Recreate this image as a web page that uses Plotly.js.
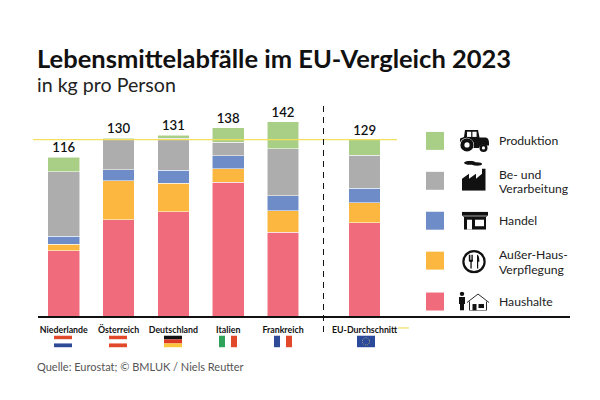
<!DOCTYPE html>
<html><head><meta charset="utf-8">
<script src="https://cdn.plot.ly/plotly-3.0.1.min.js"></script>
<style>html,body{margin:0;padding:0;background:#fff}#c{width:600px;height:400px}</style>
</head><body><div id="c"></div>
<script>
const countries=["Niederlande","Österreich","Deutschland","Italien","Frankreich","EU-Durchschnitt"];
const positions=[0,1,2,3,4,5.49];
const totals=[116,130,131,138,142,129];
const haushalte=[47.7,70.6,76.1,98,61.1,68.4];
const ausser=[4.9,28.5,20.9,9.8,15.8,14.3];
const handel=[5.8,8,9.5,9.5,11.2,10.7];
const verarbeitung=[47.2,22.1,23.4,9.9,34.3,24.1];
const produktion=[10.4,0.8,2.4,10.7,19.6,11.5];
const euAverage=129;
const colors={prod:"#A9CF86",ver:"#ADADAD",han:"#6E8CC8",aus:"#FBB73F",hau:"#F06B7B"};
const FONT="Lato, 'Noto Sans', sans-serif";

const L=38,R=570,T=100,B=316.5;
const px=x=>(x-L)/(R-L), py=y=>1-(y-T)/(B-T);
const svg=(w,h,body)=>"data:image/svg+xml;charset=utf-8,"+encodeURIComponent(`<svg xmlns="http://www.w3.org/2000/svg" width="${w*4}" height="${h*4}" viewBox="0 0 ${w} ${h}">${body}</svg>`);

const barTrace=(name,y,c)=>({type:"bar",name,x:positions,y,width:0.578,
  marker:{color:c,line:{color:"rgba(255,255,255,0.75)",width:0.7}},hoverinfo:"name+y"});
const sums=positions.map((_,i)=>haushalte[i]+ausser[i]+handel[i]+verarbeitung[i]+produktion[i]);
const traces=[
  barTrace("Haushalte",haushalte,colors.hau),
  barTrace("Außer-Haus-Verpflegung",ausser,colors.aus),
  barTrace("Handel",handel,colors.han),
  barTrace("Be- und Verarbeitung",verarbeitung,colors.ver),
  barTrace("Produktion",produktion,colors.prod),
  {type:"scatter",mode:"text",x:positions,y:sums.map(v=>v+1.2),text:totals.map(String),textposition:"top center",
   textfont:{family:FONT,size:13.2,color:"#111",weight:600},hoverinfo:"skip"}
];

const rect=(x0,y0,x1,y1,c)=>({type:"rect",xref:"paper",yref:"paper",x0:px(x0),x1:px(x1),y0:py(y0),y1:py(y1),fillcolor:c,line:{width:0},layer:"above"});
const shapes=[
  {type:"line",xref:"paper",yref:"y",x0:px(33),x1:px(397),y0:euAverage,y1:euAverage,line:{color:"#F3E05C",width:1.2},layer:"above"},
  {type:"line",xref:"paper",yref:"paper",x0:px(398),x1:px(409),y0:py(328.5),y1:py(328.5),line:{color:"#F3E05C",width:1.2}},
  {type:"line",xref:"paper",yref:"paper",x0:px(323.5),x1:px(323.5),y0:py(106),y1:py(337),line:{color:"#111",width:1,dash:"6px,5px"}},
  rect(426,132,444,150,colors.prod),
  rect(426,172,444,190,colors.ver),
  rect(426,212,444,230,colors.han),
  rect(426,252,444,270,colors.aus),
  rect(426,293,444,311,colors.hau)
];

const text=(t,x,y,size,opt)=>Object.assign({text:t,xref:"paper",yref:"paper",x:px(x),y:py(y),xanchor:"left",yanchor:"middle",showarrow:false,
  font:{family:FONT,size,color:"#222"}},opt||{});
const annotations=[
  text("<b>Lebensmittelabfälle im EU-Vergleich 2023</b>",34.5,58,25.5,{font:{family:FONT,size:25.5,color:"#111"}}),
  text("in kg pro Person",34.5,84,19.6),
  text("Produktion",497,141,12.2),
  text("Be- und",497,175,12.2),
  text("Verarbeitung",497,189,12.2),
  text("Handel",497,221,12.2),
  text("Außer-Haus-",497,255,12.2),
  text("Verpflegung",497,270,12.2),
  text("Haushalte",497,302,12.2),
  text("Quelle: Eurostat; © BMLUK / Niels Reutter",34.5,367,11,{font:{family:FONT,size:11,color:"#555"}})
];

const flagsSvg=[
 `<rect width="18" height="4" fill="#E2492B"/><rect y="4" width="18" height="4" fill="#fff"/><rect y="8" width="18" height="4" fill="#2F4B97"/>`,
 `<rect width="18" height="4" fill="#E2492B"/><rect y="4" width="18" height="4" fill="#fff"/><rect y="8" width="18" height="4" fill="#E2492B"/>`,
 `<rect width="18" height="4" fill="#111"/><rect y="4" width="18" height="4" fill="#DD3B24"/><rect y="8" width="18" height="4" fill="#FBC63B"/>`,
 `<rect width="6" height="12" fill="#2FA35A"/><rect x="6" width="6" height="12" fill="#fff"/><rect x="12" width="6" height="12" fill="#E2492B"/>`,
 `<rect width="6" height="12" fill="#2F4B97"/><rect x="6" width="6" height="12" fill="#fff"/><rect x="12" width="6" height="12" fill="#E2492B"/>`,
 `<rect width="18" height="12" fill="#2B4A9B"/><circle cx="9" cy="6" r="3.6" fill="none" stroke="#E8D36A" stroke-width="0.8" stroke-dasharray="0.8 1.1"/>`
];
const flagCenters=[63,118,173,228,283,366];
const img=(src,x,y,w,h)=>({source:src,xref:"paper",yref:"paper",x:px(x),y:py(y),sizex:w/(R-L),sizey:h/(B-T),sizing:"stretch",xanchor:"left",yanchor:"top",layer:"above"});
const images=flagsSvg.map((b,i)=>img(svg(18,12,b),flagCenters[i]-9,336,18,12));

const tractor=`<path d="M5 0h13l1.5 7.5H25c2.5 0 4 2 4 5v3h-3a4.5 4.5 0 0 0-7 2.5h-5.5A7 7 0 0 0 0 12.5V8.5l4-1.5z" fill="#111"/><rect x="7" y="1.8" width="4.2" height="5.2" fill="#fff"/><rect x="12.4" y="1.8" width="4.2" height="5.2" fill="#fff"/><circle cx="7" cy="15" r="6.6" fill="#111"/><circle cx="7" cy="15" r="2.6" fill="#fff"/><circle cx="23.5" cy="18" r="4" fill="#111"/><circle cx="23.5" cy="18" r="1.6" fill="#fff"/>`;
const factory=`<path d="M0 30V18l7-5v5l7-5v5l6-5V8h3.5v22z" fill="#111"/><ellipse cx="8" cy="2" rx="6" ry="2" fill="#111"/><ellipse cx="15" cy="3.2" rx="5" ry="1.7" fill="#111"/>`;
const shop=`<rect x="0" y="0" width="26" height="4" fill="#111"/><path d="M1 4h24v1.2H1z" fill="#777"/><rect x="2" y="5" width="22" height="13" fill="#111"/><rect x="5" y="8" width="5" height="10" fill="#fff"/><rect x="13" y="8" width="9" height="6.5" fill="#fff"/>`;
const plate=`<circle cx="12" cy="12" r="10.6" fill="none" stroke="#111" stroke-width="2.2"/><path d="M6.8 5v5.5c0 1.2.8 1.8 1.6 2V19h1.3v-6.5c.8-.2 1.3-.8 1.3-2V5h-.8v5h-.6V5h-.8v5h-.6V5z" fill="#111"/><path d="M15 5c1.8 0 2.4 3 2.4 7H16.2v7H15z" fill="#111"/>`;
const house=`<circle cx="4" cy="2.3" r="2.2" fill="#111"/><path d="M1 5.5h6v7H6v6.5H2v-6.5H1z" fill="#111"/><path d="M9 11l11-8.5L31 11" fill="none" stroke="#111" stroke-width="0.9"/><path d="M11.5 10v9h17v-9" fill="none" stroke="#111" stroke-width="0.9"/><rect x="14.5" y="12.5" width="4" height="6.5" fill="#111"/><rect x="20.5" y="12.5" width="5.5" height="4" fill="#111"/>`;
images.push(img(svg(29,22,tractor),460,130,29,22));
images.push(img(svg(24,30,factory),462,161,24,30));
images.push(img(svg(26,18,shop),462,212,26,18));
images.push(img(svg(24,24,plate),462,250,24,24));
images.push(img(svg(32,19,house),458,292,32,19));

const layout={
  width:600,height:400,margin:{l:L,r:600-R,t:T,b:400-B,pad:0},
  paper_bgcolor:"#fff",plot_bgcolor:"#fff",barmode:"stack",showlegend:false,
  font:{family:FONT,color:"#111"},
  xaxis:{type:"linear",range:[(L-63.8)/54.8,(R-63.8)/54.8],tickvals:positions,ticktext:countries.map(c=>"<b>"+c+"</b>"),
    tickfont:{family:FONT,size:8.8,color:"#111"},ticks:"",ticklabelstandoff:5,showgrid:false,zeroline:false,
    showline:true,linecolor:"#111",linewidth:1.5,tickangle:0,fixedrange:true},
  yaxis:{range:[0,(B-T)/1.37],showticklabels:false,ticks:"",showgrid:false,zeroline:false,showline:false,fixedrange:true},
  shapes,annotations,images
};
Plotly.newPlot("c",traces,layout,{displayModeBar:false,staticPlot:true});
</script></body></html>
